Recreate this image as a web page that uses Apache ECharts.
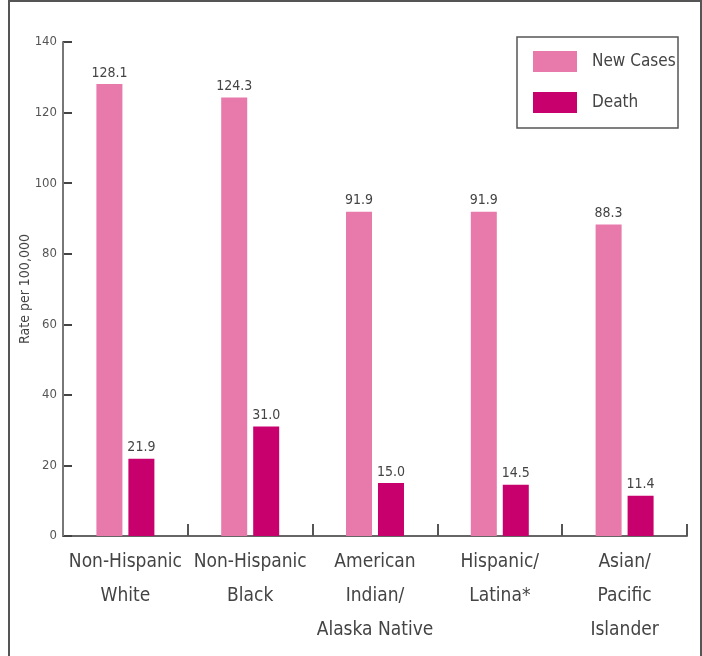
<!DOCTYPE html>
<html>
<head>
<meta charset="utf-8">
<script src="https://cdn.jsdelivr.net/npm/echarts@6/dist/echarts.min.js"></script>
<style>
html,body{margin:0;padding:0;background:#fff;}
#c{width:702px;height:656px;}
</style>
</head>
<body>
<div id="c"></div>
<script>
var categories = ['Non-Hispanic\nWhite', 'Non-Hispanic\nBlack', 'American\nIndian/\nAlaska Native', 'Hispanic/\nLatina*', 'Asian/\nPacific\nIslander'];
var newCases = [128.1, 124.3, 91.9, 91.9, 88.3];
var deaths = [21.9, 31.0, 15.0, 14.5, 11.4];
var yTicks = [0, 20, 40, 60, 80, 100, 120, 140];

var FONT = '"DejaVu Sans Condensed", "Liberation Sans Narrow", sans-serif';
var TXT = '#444';
var GRID = {left: 63, right: 15, top: 42, bottom: 120};
var chart = echarts.init(document.getElementById('c'));
chart.setOption({
  animation: false,
  textStyle: {fontFamily: FONT, color: TXT},
  graphic: [{
    type: 'rect', silent: true, z: -1,
    shape: {x: 9, y: 1, width: 692, height: 670},
    style: {fill: 'none', stroke: '#555', lineWidth: 2}
  }, {
    type: 'rect', silent: true, z: -1,
    shape: {x: 517, y: 37, width: 161, height: 91},
    style: {fill: 'none', stroke: '#555', lineWidth: 1.5}
  }, {
    type: 'rect', silent: true, z: 100,
    shape: {x: GRID.left - 1, y: GRID.top, width: 2, height: 656 - GRID.top - GRID.bottom},
    style: {fill: '#777'}
  }],
  legend: {
    orient: 'vertical', left: 517, top: 37,
    padding: [14, 0, 0, 16],
    itemWidth: 44, itemHeight: 21, itemGap: 20,
    icon: 'rect',
    textStyle: {fontFamily: FONT, fontSize: 17, color: TXT, padding: [0, 0, 0, 10]},
    data: ['New Cases', 'Death']
  },
  grid: {left: GRID.left, right: GRID.right, top: GRID.top, bottom: GRID.bottom, containLabel: false},
  xAxis: {
    type: 'category', data: categories,
    axisLine: {show: true, onZero: false, lineStyle: {color: '#666', width: 2}},
    axisTick: {show: true, inside: true, length: 12, lineStyle: {color: '#555', width: 2}},
    axisLabel: {fontFamily: FONT, fontSize: 19, color: TXT, lineHeight: 34, margin: 9, interval: 0}
  },
  yAxis: {
    type: 'value', min: yTicks[0], max: yTicks[yTicks.length - 1], interval: 20,
    name: 'Rate per 100,000', nameLocation: 'middle', nameGap: 31, nameRotate: 90,
    nameMoveOverlap: false,
    nameTextStyle: {fontFamily: FONT, fontSize: 14, color: TXT},
    splitLine: {show: false},
    axisLine: {show: true, onZero: false, lineStyle: {color: '#777', width: 2}},
    axisTick: {show: true, inside: true, length: 9, lineStyle: {color: '#444', width: 2}},
    axisLabel: {fontFamily: FONT, fontSize: 13, color: '#555', margin: 6}
  },
  series: [{
    name: 'New Cases', type: 'bar', data: newCases,
    barWidth: 26, barGap: '23%',
    itemStyle: {color: '#E879AB'},
    label: {show: true, position: 'top', distance: 4, fontFamily: FONT, fontSize: 14, color: TXT,
      formatter: function (p) { return p.value.toFixed(1); }}
  }, {
    name: 'Death', type: 'bar', data: deaths,
    barWidth: 26,
    itemStyle: {color: '#C8006E'},
    label: {show: true, position: 'top', distance: 4, fontFamily: FONT, fontSize: 14, color: TXT,
      formatter: function (p) { return p.value.toFixed(1); }}
  }]
});
</script>
</body>
</html>
